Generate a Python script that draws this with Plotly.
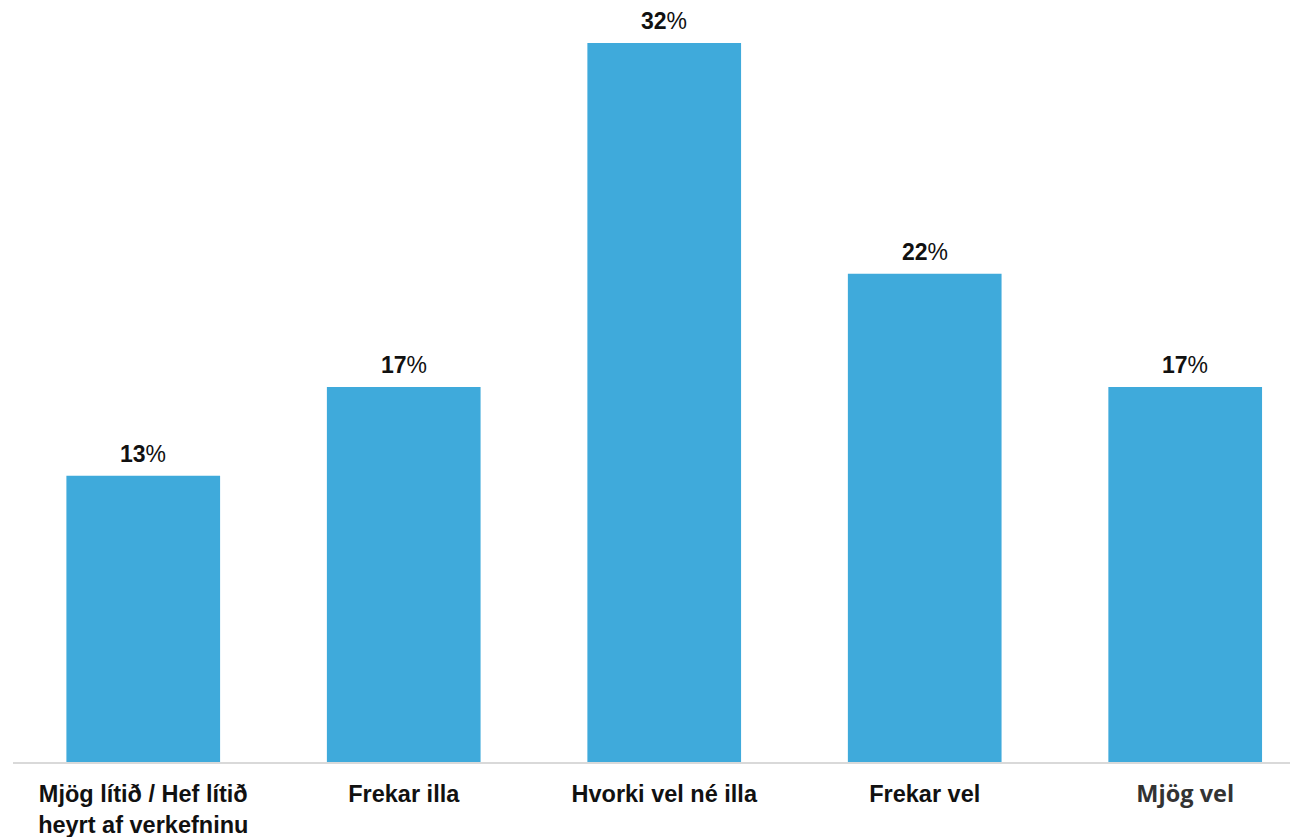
import plotly.graph_objects as go

categories = ["Mjög lítið / Hef lítið<br>heyrt af verkefninu", "Frekar illa",
              "Hvorki vel né illa", "Frekar vel", "Mjög vel"]
values = [12.9, 16.9, 32.4, 22.0, 16.9]
labels = ["13%", "17%", "32%", "22%", "17%"]

tick_text = [f"<b>{c}</b>" for c in categories[:-1]] + [
    "<span style='font-family:\"Open Sans\";color:#333333'><b>" + categories[-1] + "</b></span>"]

x_idx = list(range(len(categories)))

fig = go.Figure(go.Bar(
    x=x_idx, y=values,
    marker=dict(color="#3FAADB", line=dict(width=0)),
    hoverinfo="skip",
))

for i, (v, lab) in enumerate(zip(values, labels)):
    num, pct = lab[:-1], lab[-1]
    fig.add_annotation(x=i, y=v, text=f"<b>{num}</b>{pct}", showarrow=False,
                       yanchor="bottom", yshift=7,
                       font=dict(family="Liberation Sans, Arial", size=23, color="#111111"))

fig.update_layout(
    width=1290, height=829,
    margin=dict(l=5, r=0, t=0, b=75),
    paper_bgcolor="white", plot_bgcolor="white",
    bargap=0.41, showlegend=False,
)
fig.update_xaxes(
    tickmode="array", tickvals=x_idx, ticktext=tick_text,
    range=[-0.5, 4.433], showgrid=False, zeroline=False,
    showline=True, linecolor="#D9D9D9", linewidth=2, ticks="",
    tickfont=dict(family="Liberation Sans, Arial", size=23.5, color="#111111"),
    ticklabelstandoff=10, automargin=False,
)
fig.update_yaxes(range=[0, 33.98], visible=False, showgrid=False, zeroline=False,
                 automargin=False)

fig.write_html("out.html")
